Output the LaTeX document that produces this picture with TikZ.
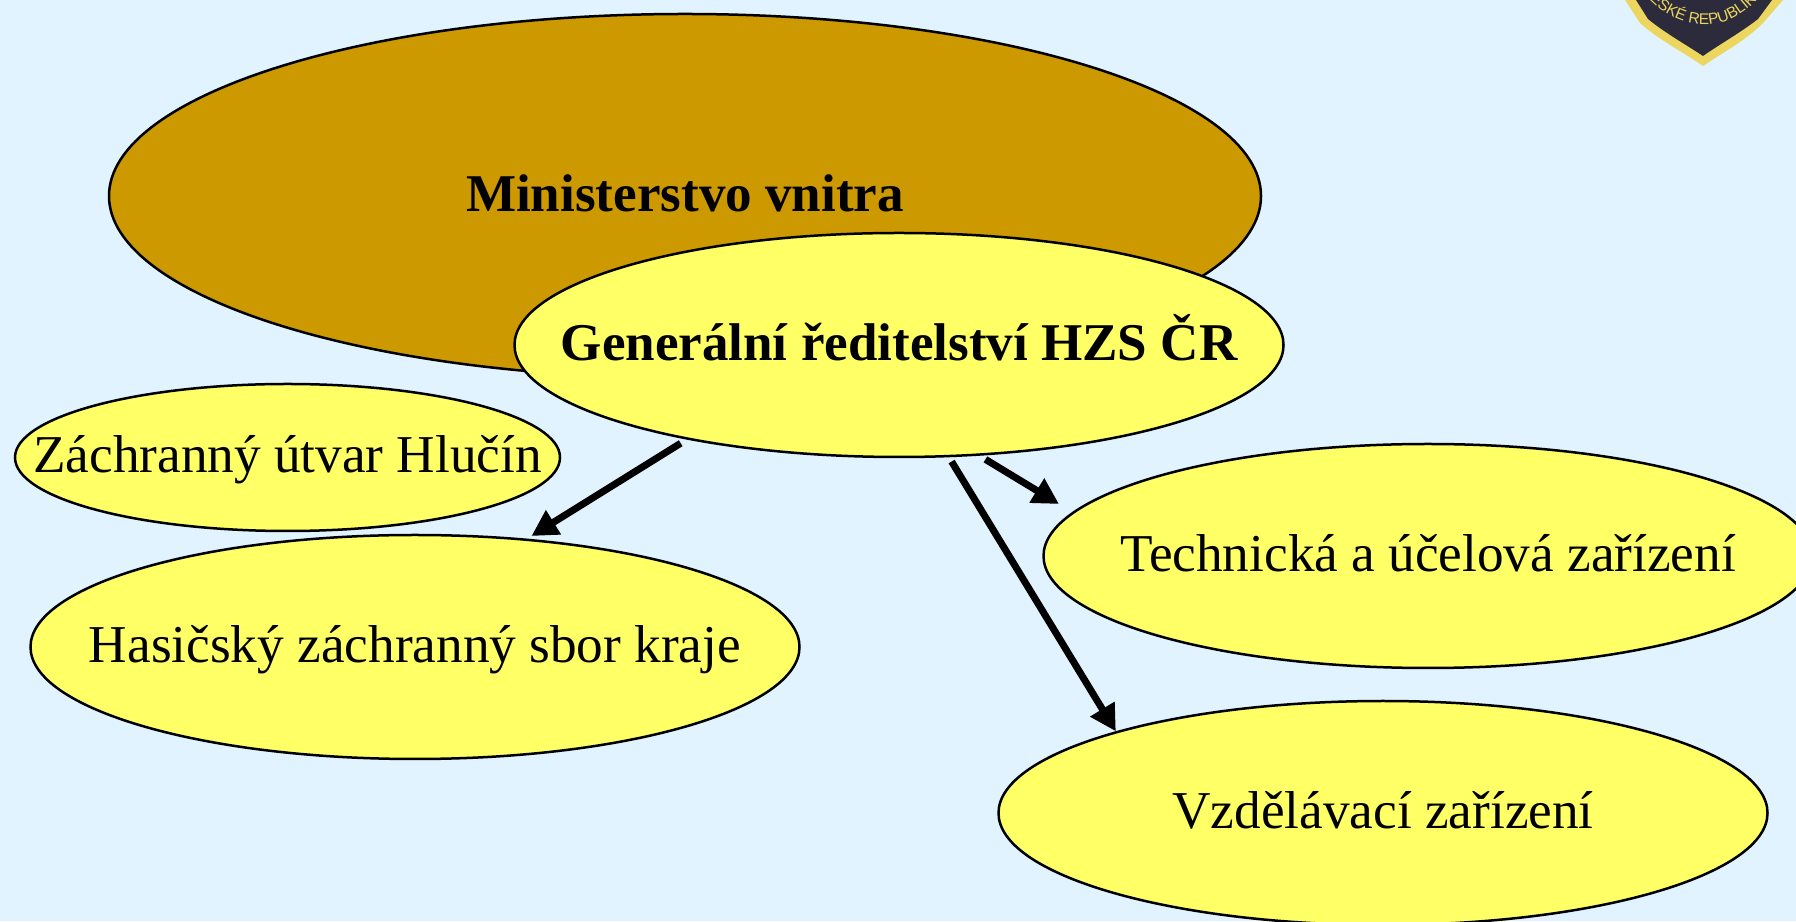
\documentclass[tikz,border=0pt]{standalone}
\usepackage{fontspec}
\setmainfont{Liberation Serif}
\newfontfamily\erbfont{Liberation Sans}
\usetikzlibrary{shapes.geometric,arrows.meta,decorations.text}
\definecolor{pozadi}{HTML}{E0F3FF}
\definecolor{zluta}{HTML}{FFFF66}
\definecolor{hneda}{HTML}{CC9900}
\definecolor{erbzluta}{HTML}{ECD65F}
\definecolor{erbmodra}{HTML}{2B2B3B}
\tikzset{
    elipsa/.style={ellipse,draw=black,line width=0.25mm,fill=zluta,inner sep=0,minimum width=7.69cm,minimum height=2.24cm},
    popis/.style={font=\fontsize{15.15pt}{18pt}\selectfont,text=black,inner sep=0,text height=0.4cm,text depth=0.09cm},
    tucny/.style={popis,font=\fontsize{15.1pt}{18pt}\selectfont\bfseries},
    sipka/.style={line width=0.7mm,-{Triangle[length=2.6mm,width=2.7mm]},black}
}
\begin{document}
\begin{tikzpicture}
    \useasboundingbox (0,0) rectangle (17.96,9.21);
    \fill[pozadi] (0,0) rectangle (17.96,9.21);
    % znak vpravo nahore
    \fill[erbzluta] (16.25,9.21) -- (16.40,8.98) .. controls (16.60,8.80) and (16.85,8.68) .. (17.03,8.55) .. controls (17.22,8.68) and (17.45,8.80) .. (17.63,8.98) -- (17.83,9.21) -- cycle;
    \fill[erbmodra] (16.36,9.21) -- (16.48,9.02) .. controls (16.65,8.88) and (16.85,8.77) .. (17.03,8.65) .. controls (17.20,8.77) and (17.40,8.88) .. (17.58,9.02) -- (17.72,9.21) -- cycle;
    \path[postaction={decorate,decoration={text along path,text align=center,text={|\erbfont\fontsize{4.4pt}{5pt}\selectfont\color{erbzluta}|ČESKÉ REPUBLIKY}}}] (16.32,9.45) .. controls (16.68,8.80) and (17.42,8.80) .. (17.72,9.45);
    % elipsy
    \node[elipsa,fill=hneda,minimum width=11.52cm,minimum height=3.64cm,label={[tucny]center:Ministerstvo vnitra}] (mv) at (6.85,7.25) {};
    \node[elipsa,label={[tucny]center:Generální ředitelství HZS ČR}] (gr) at (8.99,5.76) {};
    \node[elipsa,minimum width=5.45cm,minimum height=1.47cm,label={[popis]center:Záchranný útvar Hlučín}] (zu) at (2.875,4.635) {};
    \node[elipsa,label={[popis]center:Hasičský záchranný sbor kraje}] (hs) at (4.15,2.74) {};
    \node[elipsa,label={[popis]center:Technická a účelová zařízení}] (tz) at (14.28,3.65) {};
    \node[elipsa,label={[popis]center:Vzdělávací zařízení}] (vz) at (13.83,1.08) {};
    \coordinate (tztip) at (10.59,4.17);
    % sipky
    \draw[sipka,shorten <=0.07cm,shorten >=0.05cm] (gr.204) -- (hs.44.7);
    \draw[sipka,shorten <=0.07cm] (gr.306) -- (tztip);
    \draw[sipka,shorten <=0.05cm] (gr.294) -- (vz.163);
\end{tikzpicture}
\end{document}
